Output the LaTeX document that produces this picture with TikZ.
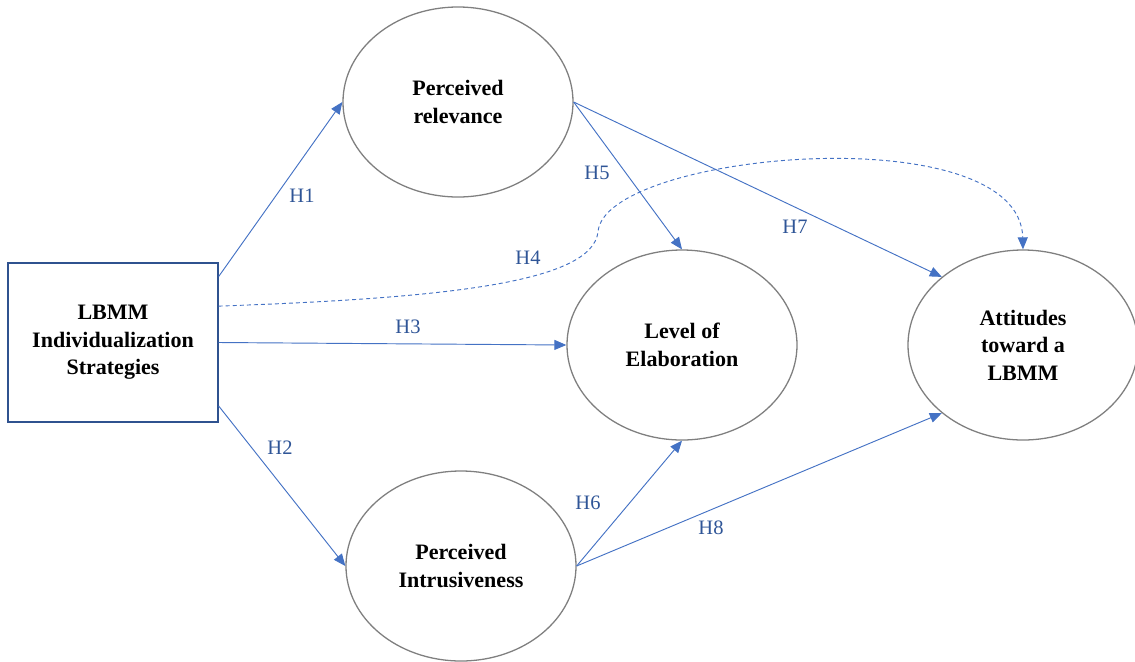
\documentclass[tikz,border=0pt]{standalone}
\usepackage{fontspec}
\setmainfont{Liberation Serif}
\usetikzlibrary{arrows.meta,shapes.geometric}
\definecolor{linkblue}{HTML}{4472C4}
\definecolor{labblue}{HTML}{2F5597}
\definecolor{boxblue}{HTML}{2F528F}
\definecolor{ringgray}{HTML}{7F7F7F}

\begin{document}
\begin{tikzpicture}[x=0.03cm, y=-0.03cm,
  construct/.style={draw=ringgray, line width=1.1pt, ellipse, inner sep=0pt,
    minimum width=6.9cm, minimum height=5.7cm, align=center,
    font=\fontsize{18.8}{23.5}\selectfont\bfseries},
  startbox/.style={draw=boxblue, line width=1.2pt, rectangle, inner sep=0pt,
    minimum width=6.3cm, minimum height=4.77cm, align=center,
    font=\fontsize{18.8}{23.5}\selectfont\bfseries},
  link/.style={draw=linkblue, line width=0.8pt,
    -{Triangle[length=0.36cm, width=0.3cm]}},
  hyp/.style={text=labblue, inner sep=0pt, font=\fontsize{17.5}{20}\selectfont}]
\useasboundingbox (0,0) rectangle (1135,661);

% constructs
\node[startbox] (lbmm) at (113,342.5) {LBMM\\Individualization\\Strategies};
\node[construct] (relev) at (458,102) {Perceived\\relevance};
\node[construct] (elab) at (682,345) {Level of\\Elaboration};
\node[construct] (attit) at (1023,345) {Attitudes\\toward a\\LBMM};
\node[construct] (intru) at (461,566) {Perceived\\Intrusiveness};

% hypotheses
\draw[link] (lbmm.32) -- (relev.west);
\draw[link] (lbmm.-31) -- (intru.west);
\draw[link] (lbmm.east) -- (elab.west);
\draw[link] (relev.east) -- (elab.north);
\draw[link] (relev.east) -- (attit.140);
\draw[link] (intru.east) -- (elab.south);
\draw[link] (intru.east) -- (attit.220);
\coordinate (bend) at (598,232);
\draw[link, dash pattern=on 3.4pt off 2.6pt] (lbmm.19)
  .. controls (450,298) and (592,282) .. (bend)
  .. controls (604,152) and (1020,115) .. (attit.north);

\foreach \h/\x/\y in {H1/302/196, H2/280/448, H3/408/327, H4/528/258,
                      H5/597/173, H6/588/503, H7/795/227, H8/711/528}
  \node[hyp] (\h) at (\x,\y) {\h};
\end{tikzpicture}
\end{document}
